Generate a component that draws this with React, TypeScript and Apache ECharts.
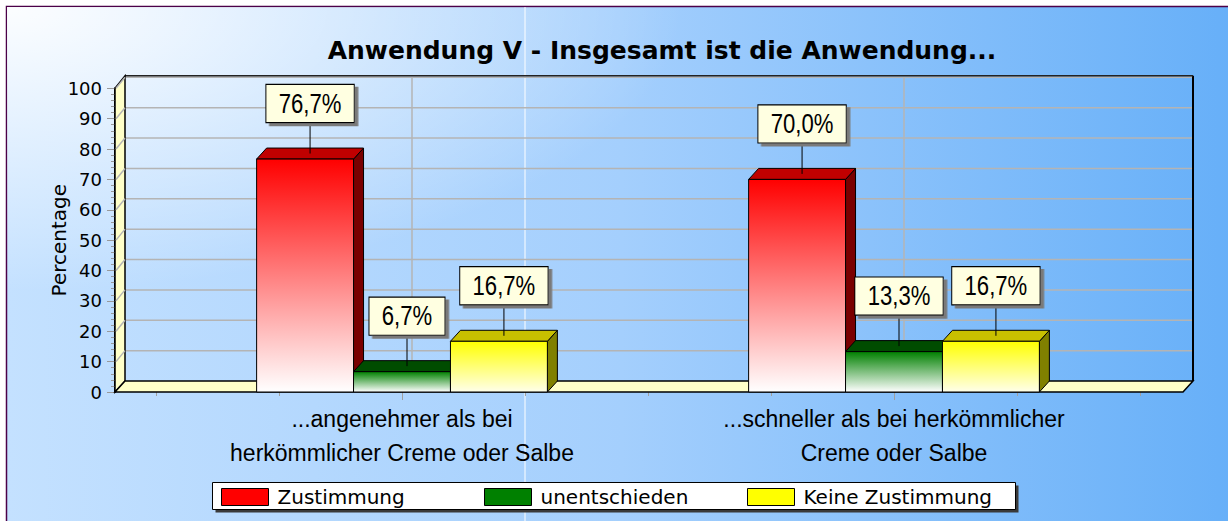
import React, { useEffect, useRef } from "react";
import * as echarts from "echarts";

// ---- data ----
const categories = [
  "...angenehmer als bei\nherkömmlicher Creme oder Salbe",
  "...schneller als bei herkömmlicher\nCreme oder Salbe",
];
const seriesNames = ["Zustimmung", "unentschieden", "Keine Zustimmung"];
const zustimmung = [76.7, 70.0];
const unentschieden = [6.7, 13.3];
const keineZustimmung = [16.7, 16.7];
const yMin = 0;
const yMax = 100;
const yStep = 10;
const titleText = "Anwendung V - Insgesamt ist die Anwendung...";
const yAxisName = "Percentage";

// ---- style ----
const DX = 10;
const DY = -11;
const FLOOR_EXT_LEFT = 41;
const FLOOR_EXT_RIGHT = 43;
const BAR_FRACTION = 0.197;
const palettes = [
  { front: ["#ff0000", "#ffffff"], top: "#c00000", side: "#7a0000", legend: "#ff0000" },
  { front: ["#008000", "#ffffff"], top: "#004c00", side: "#003000", legend: "#008000" },
  { front: ["#ffff00", "#ffffea"], top: "#c8c000", side: "#808000", legend: "#ffff00" },
];
const LABEL_FONT = '27px "Liberation Sans", Arial, sans-serif';
const LABEL_SCALE_X = 0.82;

const fmt = (v: number) => v.toFixed(1).replace(".", ",") + "%";

function barRenderer(s: number) {
  return (params: any, api: any) => {
    const cat = api.value(0);
    const v = api.value(1);
    const [cx, yTop] = api.coord([cat, v]);
    const yBase = api.coord([cat, 0])[1];
    const band = api.size([1, 0])[0];
    const bw = band * BAR_FRACTION;
    const bx = cx + (s - 1) * bw;
    const x0 = bx - bw / 2;
    const x1 = bx + bw / 2;
    const p = palettes[s];
    const stroke = { stroke: "#000", lineWidth: 1, lineJoin: "round" };
    const lx = bx + DX / 2;
    const boxH = 37;
    const boxBottom = yTop - 37;
    const ly = boxBottom - boxH / 2;
    const text = fmt(v);
    return {
      type: "group",
      children: [
        {
          type: "polygon",
          z2: s + 1,
          shape: { points: [[x1, yTop], [x1 + DX, yTop + DY], [x1 + DX, yBase + DY], [x1, yBase]] },
          style: { fill: p.side, ...stroke },
        },
        {
          type: "polygon",
          z2: s + 1,
          shape: { points: [[x0, yTop], [x1, yTop], [x1 + DX, yTop + DY], [x0 + DX, yTop + DY]] },
          style: { fill: p.top, ...stroke },
        },
        {
          type: "rect",
          z2: s + 1,
          shape: { x: x0, y: yTop, width: x1 - x0, height: yBase - yTop },
          style: {
            fill: new echarts.graphic.LinearGradient(0, 0, 0, 1, [
              { offset: 0, color: p.front[0] },
              { offset: 1, color: p.front[1] },
            ]),
            ...stroke,
          },
        },
        {
          type: "line",
          z2: 99,
          shape: { x1: lx, y1: boxBottom, x2: lx, y2: yTop + DY / 2 },
          style: { stroke: "#000", lineWidth: 1 },
        },
        {
          type: "text",
          z2: 101,
          x: lx,
          y: ly,
          scaleX: LABEL_SCALE_X,
          style: {
            text,
            font: LABEL_FONT,
            fill: "#000",
            backgroundColor: "#ffffe1",
            borderColor: "#000",
            borderWidth: 1.2,
            padding: [5, 15, 5, 15],
            align: "center",
            verticalAlign: "middle",
            shadowColor: "#7a7a7a",
            shadowBlur: 0,
            shadowOffsetX: 3.6,
            shadowOffsetY: 3,
          },
        },
      ],
    };
  };
}

function wallRenderer(params: any, api: any) {
  const cs = params.coordSys;
  const fl = cs.x - FLOOR_EXT_LEFT;
  const fr = cs.x + cs.width + FLOOR_EXT_RIGHT;
  const y0 = api.coord([0, yMin])[1];
  const yTopV = api.coord([0, yMax])[1];
  const grid = { stroke: "#b4b4b4", lineWidth: 1.5 };
  const children: any[] = [];
  for (let v = yMin + yStep; v <= yMax; v += yStep) {
    const y = api.coord([0, v])[1];
    children.push({
      type: "line",
      shape: { x1: fl + DX, y1: y + DY, x2: fr + DX, y2: y + DY },
      style: grid,
    });
  }
  categories.forEach((_, i) => {
    const x = api.coord([i, 0])[0] + DX;
    children.push({
      type: "line",
      shape: { x1: x, y1: y0 + DY, x2: x, y2: yTopV + DY },
      style: grid,
    });
  });
  children.push({
    type: "line",
    shape: { x1: fr + DX, y1: y0 + DY, x2: fr + DX, y2: yTopV + DY - 1.5 },
    style: { stroke: "#000", lineWidth: 2 },
  });
  children.push({
    type: "line",
    shape: { x1: fl + DX, y1: yTopV + DY - 1.5, x2: fr + DX, y2: yTopV + DY - 1.5 },
    style: { stroke: "#222", lineWidth: 1.5 },
  });
  children.push({
    type: "polygon",
    shape: { points: [[fl, y0], [fl, yTopV], [fl + DX, yTopV + DY - 1.5], [fl + DX, y0 + DY]] },
    style: { fill: "#ffffc8", stroke: "#000", lineWidth: 1.5 },
  });
  for (let v = yMin + yStep; v <= yMax; v += yStep) {
    const y = api.coord([0, v])[1];
    children.push({
      type: "line",
      shape: { x1: fl + 1, y1: y, x2: fl + DX, y2: y + DY },
      style: grid,
    });
  }
  children.push({
    type: "polygon",
    shape: { points: [[fl, y0], [fr, y0], [fr + DX, y0 + DY], [fl + DX, y0 + DY]] },
    style: { fill: "#ffffc8", stroke: "#000", lineWidth: 1.5 },
  });
  return { type: "group", children };
}

export default function App() {
  const ref = useRef<HTMLDivElement>(null);
  useEffect(() => {
    const chart = echarts.init(ref.current!, null, { renderer: "svg" });
    const seriesData = [zustimmung, unentschieden, keineZustimmung];
    const option: any = {
      animation: false,
      title: {
        text: titleText,
        left: 657,
        top: 45,
        textAlign: "center",
        textVerticalAlign: "middle",
        textStyle: { fontFamily: "DejaVu Sans", fontWeight: "bold", fontSize: 25, color: "#000" },
      },
      graphic: [
        {
          type: "rect",
          z: -20,
          shape: { x: 6.5, y: 6.5, width: 1230, height: 520 },
          style: {
            fill: new echarts.graphic.LinearGradient(0, 0, 1, 0, [
              { offset: 0, color: "#c4e1ff" },
              { offset: 0.5, color: "#a4cffd" },
              { offset: 1, color: "#66aff8" },
            ]),
            stroke: "#4b0048",
            lineWidth: 1.5,
          },
        },
        {
          type: "rect",
          z: -19,
          shape: { x: 7, y: 7, width: 1228, height: 518 },
          style: {
            fill: new echarts.graphic.RadialGradient(0, 0, 0.55, [
              { offset: 0, color: "rgba(255,255,255,0.95)" },
              { offset: 1, color: "rgba(255,255,255,0)" },
            ]),
          },
        },
        {
          type: "line",
          z: -18,
          shape: { x1: 525, y1: 7, x2: 525, y2: 521 },
          style: { stroke: "#ffffff", lineWidth: 1 },
        },
        {
          type: "rect",
          z: 3,
          shape: { x: 215.5, y: 485.5, width: 803, height: 27 },
          style: { fill: "#3a3a3a" },
        },
        {
          type: "rect",
          z: 3,
          shape: { x: 212.5, y: 482.5, width: 803, height: 27 },
          style: { fill: "#ffffff", stroke: "#000", lineWidth: 1 },
        },
      ],
      legend: {
        data: seriesNames,
        left: 221,
        top: 487,
        padding: 0,
        itemGap: 0,
        itemWidth: 47,
        itemHeight: 17,
        icon: "rect",
        itemStyle: { borderColor: "#000", borderWidth: 1 },
        textStyle: {
          fontFamily: "DejaVu Sans",
          fontSize: 20,
          color: "#000",
          width: 206.5,
          padding: [0, 0, 0, 4],
          lineHeight: 17,
        },
      },
      grid: { left: 156, right: 88, top: 88.3, bottom: 129 },
      xAxis: [
        {
          type: "category",
          data: categories,
          position: "bottom",
          axisLine: { show: false },
          axisTick: { show: true, alignWithLabel: true, length: 8, lineStyle: { color: "#a0a0a0" } },
          axisLabel: {
            interval: 0,
            margin: 10,
            fontFamily: "Liberation Sans",
            fontSize: 23,
            lineHeight: 34,
            color: "#000",
          },
          splitLine: { show: false },
        },
        {
          type: "value",
          min: 0,
          max: 8,
          interval: 1,
          position: "bottom",
          axisLine: { show: false },
          axisTick: { show: true, length: 4, lineStyle: { color: "#a0a0a0" } },
          axisLabel: { show: false },
          splitLine: { show: false },
        },
      ],
      yAxis: {
        type: "value",
        min: yMin,
        max: yMax,
        interval: yStep,
        offset: 41,
        name: yAxisName,
        nameLocation: "middle",
        nameGap: 46,
        nameMoveOverlap: false,
        nameTextStyle: { fontFamily: "DejaVu Sans", fontSize: 20, color: "#000" },
        axisLine: { show: true, onZero: false, lineStyle: { color: "#000", width: 2 } },
        axisTick: { show: true, length: 8, lineStyle: { color: "#999" } },
        minorTick: { show: true, splitNumber: 5, length: 4, lineStyle: { color: "#999" } },
        axisLabel: { margin: 13, fontFamily: "DejaVu Sans", fontSize: 18, color: "#000" },
        splitLine: { show: false },
      },
      series: [
        {
          type: "custom",
          name: "walls",
          z: 1,
          silent: true,
          xAxisIndex: 0,
          yAxisIndex: 0,
          data: [[0, 0]],
          renderItem: wallRenderer,
        },
        ...seriesData.map((vals, s) => ({
          type: "custom",
          name: seriesNames[s],
          xAxisIndex: 0,
          yAxisIndex: 0,
          itemStyle: { color: palettes[s].legend },
          encode: { x: 0, y: 1 },
          data: vals.map((v, i) => [i, v]),
          renderItem: barRenderer(s),
        })),
      ],
    };
    chart.setOption(option);
    return () => chart.dispose();
  }, []);
  return (
    <div
      ref={ref}
      style={{ position: "absolute", left: 0, top: 0, width: 1228, height: 521 }}
    />
  );
}
